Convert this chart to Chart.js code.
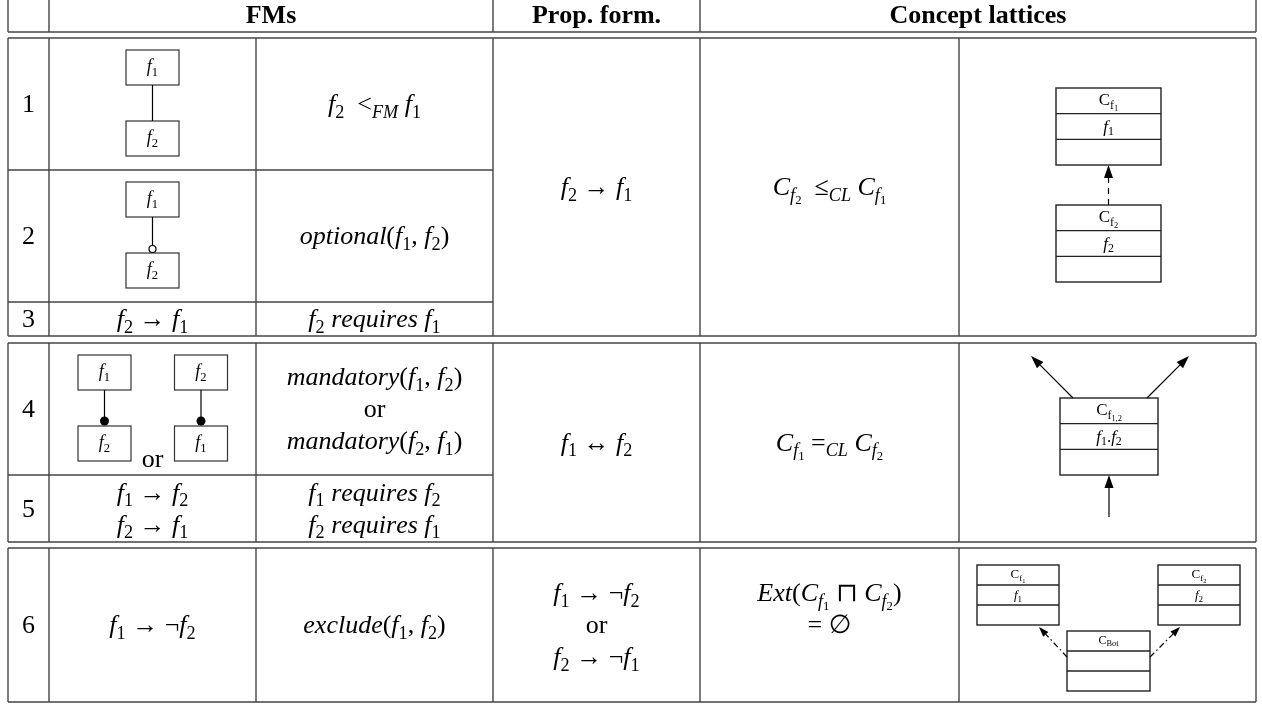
<!DOCTYPE html>
<html>
<head>
<meta charset="utf-8">
<script src="https://cdn.jsdelivr.net/npm/chart.js"></script>
<style>
    html, body { margin: 0; padding: 0; background: #fff; }
    canvas { display: block; }
</style>
</head>
<body>
<canvas id="tabla" width="1262" height="704"></canvas>
<script>
// Datos de la tabla ($..$ = modo matemático, _{..} = subíndice)
const headerLabels = ['FMs', 'Prop. form.', 'Concept lattices'];
const rowNumbers = ['1', '2', '3', '4', '5', '6'];

// Columna FMs (diagramas)
const fmTreeRows = [1, 2, 4, 4];
const fmTreeParents = ['$f_1$', '$f_1$', '$f_1$', '$f_2$'];
const fmTreeChildren = ['$f_2$', '$f_2$', '$f_2$', '$f_1$'];
const fmTreeLinks = ['plain', 'optional', 'mandatory', 'mandatory'];

// Columna FMs (fórmulas y notación)
const fmFormulas = [null, null, '$f_2 → f_1$', null, ['$f_1 → f_2$', '$f_2 → f_1$'], '$f_1 → ¬f_2$'];
const fmNotations = [
    '$f_2  <_{FM} f_1$',
    '$optional(f_1, f_2)$',
    '$f_2 requires f_1$',
    ['$mandatory(f_1, f_2)$', 'or', '$mandatory(f_2, f_1)$'],
    ['$f_1 requires f_2$', '$f_2 requires f_1$'],
    '$exclude(f_1, f_2)$'
];

// Columnas agrupadas por bloque
const propForms = ['$f_2 → f_1$', '$f_1 ↔ f_2$', ['$f_1 → ¬f_2$', 'or', '$f_2 → ¬f_1$']];
const latticeRelations = ['$C_{f_2}  ≤_{CL} C_{f_1}$', '$C_{f_1} =_{CL} C_{f_2}$', ['$Ext(C_{f_1} ⊓ C_{f_2})$', '= ∅']];

// Conceptos de los retículos
const conceptTitles = ['C_{f_1}', 'C_{f_2}', 'C_{f_{1,2}}', 'C_{f_1}', 'C_{f_2}', 'C_{Bot}'];
const conceptIntents = ['$f_1$', '$f_2$', '$f_1.f_2$', '$f_1$', '$f_2$', ''];

// Maquetación
const SERIF = "'Liberation Serif', 'DejaVu Serif', 'DejaVu Sans', serif";
const FONT = 26;
const LINE_GAP = 32;
const colEdges = [8, 49, 256, 493, 700, 959, 1256];
const headerBottom = 32;
const rowSpans = [[38, 170], [170, 302], [302, 336], [343, 475], [475, 542], [548, 702]];
const bands = [[38, 336], [343, 542], [548, 702]];

// Parser de texto enriquecido
function parseRich(str) {
    let i = 0, italic = false;
    function group(inBrace) {
        const out = [];
        while (i < str.length) {
            const c = str[i];
            if (c === '}' && inBrace) { i++; return out; }
            if (c === '$') { italic = !italic; i++; continue; }
            if (c === '_') {
                i++;
                if (str[i] === '{') { i++; out.push({ sub: group(true) }); }
                else { out.push({ sub: [{ ch: str[i], it: italic && /[A-Za-z]/.test(str[i]) }] }); i++; }
                continue;
            }
            out.push({ ch: c, it: italic && /[A-Za-z]/.test(c) });
            i++;
        }
        return out;
    }
    return group(false);
}

function fontFor(it, size, bold) {
    return (it ? 'italic ' : '') + (bold ? 'bold ' : '') + size + 'px ' + SERIF;
}

function measureRich(ctx, items, size, bold) {
    let w = 0;
    items.forEach(t => {
        if (t.sub) w += measureRich(ctx, t.sub, size * 0.7, bold);
        else { ctx.font = fontFor(t.it, size, bold); w += ctx.measureText(t.ch).width; }
    });
    return w;
}

function drawRich(ctx, items, x, y, size, bold) {
    items.forEach(t => {
        if (t.sub) x = drawRich(ctx, t.sub, x, y + size * 0.2, size * 0.7, bold);
        else {
            ctx.font = fontFor(t.it, size, bold);
            ctx.fillText(t.ch, x, y);
            x += ctx.measureText(t.ch).width;
        }
    });
    return x;
}

function textCentered(ctx, str, cx, cy, size, bold) {
    const items = parseRich(str);
    const w = measureRich(ctx, items, size, bold);
    drawRich(ctx, items, cx - w / 2, cy + size * 0.32, size, bold);
}

function linesCentered(ctx, content, cx, cy, size) {
    const lines = Array.isArray(content) ? content : [content];
    const start = cy - (lines.length - 1) * LINE_GAP / 2;
    lines.forEach((l, k) => textCentered(ctx, l, cx, start + k * LINE_GAP, size));
}

const tablaPlugin = {
    id: 'tabla',
    afterDraw(chart) {
        const ctx = chart.ctx;
        const sx = v => chart.scales.x.getPixelForValue(v);
        const sy = v => chart.scales.y.getPixelForValue(v);
        const mid = (a, b) => (a + b) / 2;

        function hline(y, x1, x2) {
            ctx.beginPath(); ctx.moveTo(sx(x1), sy(y)); ctx.lineTo(sx(x2), sy(y)); ctx.stroke();
        }
        function vline(x, y1, y2) {
            ctx.beginPath(); ctx.moveTo(sx(x), sy(y1)); ctx.lineTo(sx(x), sy(y2)); ctx.stroke();
        }
        function arrow(x1, y1, x2, y2, dash, len, half) {
            const a = Math.atan2(sy(y2) - sy(y1), sx(x2) - sx(x1));
            const bx = sx(x2) - Math.cos(a) * len, by = sy(y2) - Math.sin(a) * len;
            ctx.save();
            ctx.strokeStyle = '#000'; ctx.fillStyle = '#000'; ctx.lineWidth = 1.2;
            ctx.setLineDash(dash);
            ctx.beginPath(); ctx.moveTo(sx(x1), sy(y1)); ctx.lineTo(bx, by); ctx.stroke();
            ctx.setLineDash([]);
            ctx.beginPath();
            ctx.moveTo(sx(x2), sy(y2));
            ctx.lineTo(bx + Math.sin(a) * half, by - Math.cos(a) * half);
            ctx.lineTo(bx - Math.sin(a) * half, by + Math.cos(a) * half);
            ctx.closePath(); ctx.fill();
            ctx.restore();
        }
        function concept(k, x0, y0, w, rowH, size) {
            ctx.save();
            ctx.strokeStyle = '#222'; ctx.lineWidth = 1.4;
            ctx.strokeRect(sx(x0), sy(y0), sx(x0 + w) - sx(x0), sy(y0 + 3 * rowH) - sy(y0));
            hline(y0 + rowH, x0, x0 + w);
            hline(y0 + 2 * rowH, x0, x0 + w);
            ctx.fillStyle = '#000';
            textCentered(ctx, conceptTitles[k], sx(x0 + w / 2), sy(y0 + rowH / 2) - 1, size);
            if (conceptIntents[k]) textCentered(ctx, conceptIntents[k], sx(x0 + w / 2), sy(y0 + 1.5 * rowH), size);
            ctx.restore();
        }

        ctx.save();
        ctx.strokeStyle = '#444';
        ctx.lineWidth = 1.4;

        // Cabecera
        [8, 49, 493, 700, 1256].forEach(x => vline(x, 0, headerBottom));
        hline(headerBottom, colEdges[0], colEdges[6]);

        // Bloques del cuerpo
        bands.forEach(([top, bottom]) => {
            hline(top, colEdges[0], colEdges[6]);
            hline(bottom, colEdges[0], colEdges[6]);
            colEdges.forEach(x => vline(x, top, bottom));
        });
        [170, 302, 475].forEach(y => hline(y, colEdges[0], colEdges[3]));

        ctx.fillStyle = '#000';
        ctx.textBaseline = 'alphabetic';

        textCentered(ctx, headerLabels[0], sx(mid(colEdges[1], colEdges[3])), sy(15), FONT, true);
        textCentered(ctx, headerLabels[1], sx(mid(colEdges[3], colEdges[4])), sy(15), FONT, true);
        textCentered(ctx, headerLabels[2], sx(mid(colEdges[4], colEdges[6])), sy(15), FONT, true);

        rowSpans.forEach(([top, bottom], r) => {
            const cy = sy(mid(top, bottom));
            textCentered(ctx, rowNumbers[r], sx(mid(colEdges[0], colEdges[1])), cy, FONT);
            if (fmFormulas[r]) linesCentered(ctx, fmFormulas[r], sx(mid(colEdges[1], colEdges[2])), cy, FONT);
            linesCentered(ctx, fmNotations[r], sx(mid(colEdges[2], colEdges[3])), cy, FONT);
        });

        bands.forEach(([top, bottom], b) => {
            const cy = sy(mid(top, bottom));
            linesCentered(ctx, propForms[b], sx(mid(colEdges[3], colEdges[4])), b === 2 ? cy : cy, FONT);
            if (b === 2) {
                const lines = latticeRelations[b];
                lines.forEach((l, k) => textCentered(ctx, l, sx(mid(colEdges[4], colEdges[5])), cy - LINE_GAP + k * LINE_GAP, FONT));
            } else {
                linesCentered(ctx, latticeRelations[b], sx(mid(colEdges[4], colEdges[5])), cy, FONT);
            }
        });

        // Diagramas de FMs
        const fmCenter = mid(colEdges[1], colEdges[2]);
        fmTreeRows.forEach((row, k) => {
            const top = rowSpans[row - 1][0];
            const pair = fmTreeRows.filter(r => r === row).length;
            const idx = fmTreeRows.slice(0, k).filter(r => r === row).length;
            const cx = pair > 1 ? fmCenter + (idx === 0 ? -48 : 48.5) : fmCenter;
            const bw = 53, bh = 35;
            ctx.save();
            ctx.strokeStyle = '#333'; ctx.lineWidth = 1.2;
            ctx.strokeRect(sx(cx - bw / 2), sy(top + 12), bw, bh);
            ctx.strokeRect(sx(cx - bw / 2), sy(top + 83), bw, bh);
            ctx.strokeStyle = '#000';
            const link = fmTreeLinks[k];
            const endY = link === 'optional' ? top + 75.5 : (link === 'mandatory' ? top + 78 : top + 83);
            vline(cx, top + 47, endY);
            if (link === 'optional') {
                ctx.beginPath(); ctx.arc(sx(cx), sy(top + 79), 3.5, 0, Math.PI * 2);
                ctx.fillStyle = '#fff'; ctx.fill(); ctx.stroke();
            } else if (link === 'mandatory') {
                ctx.beginPath(); ctx.arc(sx(cx), sy(top + 78), 4.5, 0, Math.PI * 2);
                ctx.fillStyle = '#000'; ctx.fill();
            }
            ctx.fillStyle = '#000';
            textCentered(ctx, fmTreeParents[k], sx(cx), sy(top + 29.5) - 1, 18);
            textCentered(ctx, fmTreeChildren[k], sx(cx), sy(top + 100.5) - 1, 18);
            ctx.restore();
            if (pair > 1 && idx === 0) textCentered(ctx, 'or', sx(fmCenter), sy(top + 116), FONT);
        });

        // Retículos de conceptos
        concept(0, 1056, 88, 105, 25.67, 17);
        concept(1, 1056, 205, 105, 25.67, 17);
        arrow(1108.5, 205, 1108.5, 165, [6, 5], 13, 4.5);

        concept(2, 1060, 398, 98, 25.67, 17);
        arrow(1073, 398, 1031, 356, [], 13, 4.5);
        arrow(1147, 398, 1189, 356, [], 13, 4.5);
        arrow(1109, 517, 1109, 475, [], 13, 4.5);

        concept(3, 977, 565, 82, 20, 13);
        concept(4, 1158, 565, 82, 20, 13);
        concept(5, 1067, 631, 83, 20, 12);
        arrow(1067, 657, 1039, 627, [6, 3, 1.5, 3], 10, 3.5);
        arrow(1150, 657, 1180, 627, [6, 3, 1.5, 3], 10, 3.5);

        ctx.restore();
    }
};

new Chart(document.getElementById('tabla'), {
    type: 'scatter',
    data: { datasets: [{ data: [], pointRadius: 0 }] },
    options: {
        responsive: false,
        animation: false,
        devicePixelRatio: 1,
        layout: { padding: 0 },
        plugins: { legend: { display: false }, tooltip: { enabled: false } },
        scales: {
            x: { type: 'linear', min: 0, max: 1262, display: false },
            y: { type: 'linear', min: 0, max: 704, reverse: true, display: false }
        }
    },
    plugins: [tablaPlugin]
});
</script>
</body>
</html>
